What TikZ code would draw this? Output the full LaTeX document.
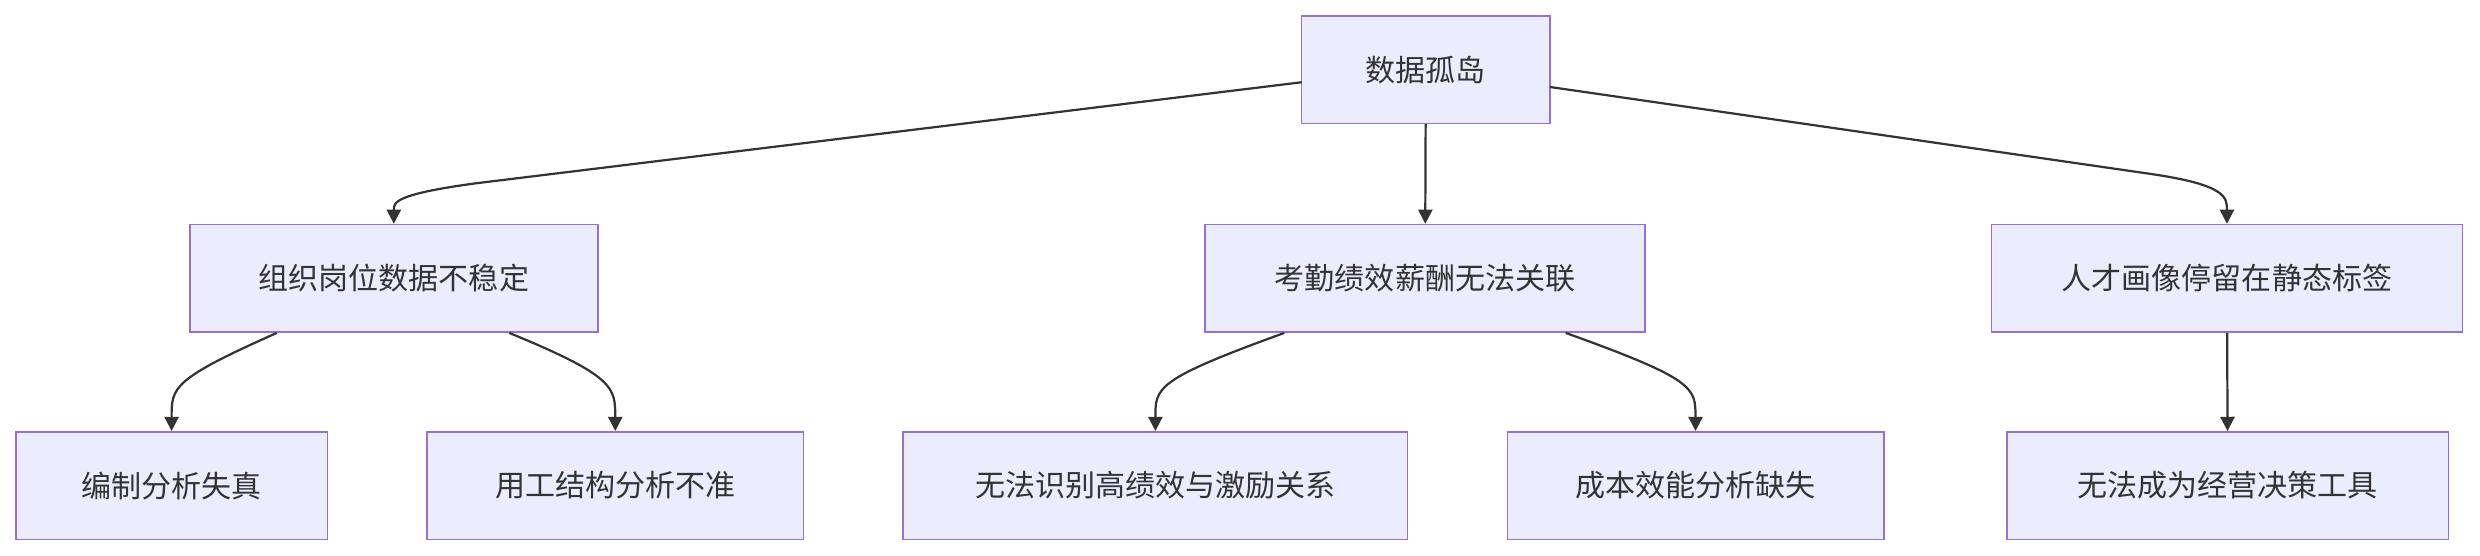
\documentclass[tikz,border=0pt]{standalone}
\usepackage{fontspec}
\setmainfont{Noto Sans CJK SC}
\usetikzlibrary{arrows.meta}
\definecolor{boxfill}{HTML}{ECECFF}
\definecolor{boxline}{HTML}{9370DB}
\definecolor{edge}{HTML}{333333}
\begin{document}
\begin{tikzpicture}[x=1pt,y=-1pt,
  box/.style={draw=boxline,fill=boxfill,line width=1pt,minimum height=68pt,inner sep=0pt,font=\fontsize{19}{22}\selectfont,text=edge},
  conn/.style={draw=edge,line width=1.4pt,-{Triangle[length=9pt,width=9pt]}}]
\useasboundingbox (0,0) rectangle (1568,351);
\node[box,minimum width=157pt] (root) at (901.5,44) {数据孤岛};
\node[box,minimum width=258pt] (A) at (249,176) {组织岗位数据不稳定};
\node[box,minimum width=278pt] (B) at (901,176) {考勤绩效薪酬无法关联};
\node[box,minimum width=298pt] (C) at (1408,176) {人才画像停留在静态标签};
\node[box,minimum width=197pt] (A1) at (108.5,307) {编制分析失真};
\node[box,minimum width=238pt] (A2) at (389,307) {用工结构分析不准};
\node[box,minimum width=319pt] (B1) at (730.5,307) {无法识别高绩效与激励关系};
\node[box,minimum width=238pt] (B2) at (1072,307) {成本效能分析缺失};
\node[box,minimum width=279pt] (C1) at (1408.5,307) {无法成为经营决策工具};
\coordinate (rl) at (823,52);
\coordinate (rr) at (980,55);
\draw[conn] (rl) -- (300,116) .. controls (249,123) and (249,128) .. (A.north);
\draw[conn] (root) -- (B);
\draw[conn] (rr) -- (1360,110) .. controls (1408,117) and (1408,125) .. (C.north);
\draw[conn] ([xshift=-74pt]A.south) .. controls (108.5,240) and (108.5,245) .. (A1.north);
\draw[conn] ([xshift=73pt]A.south) .. controls (389,238) and (389,245) .. (A2.north);
\draw[conn] ([xshift=-89pt]B.south) .. controls (730.5,240) and (730.5,245) .. (B1.north);
\draw[conn] ([xshift=89pt]B.south) .. controls (1072,240) and (1072,245) .. (B2.north);
\draw[conn] (C) -- (C1);
\end{tikzpicture}
\end{document}
